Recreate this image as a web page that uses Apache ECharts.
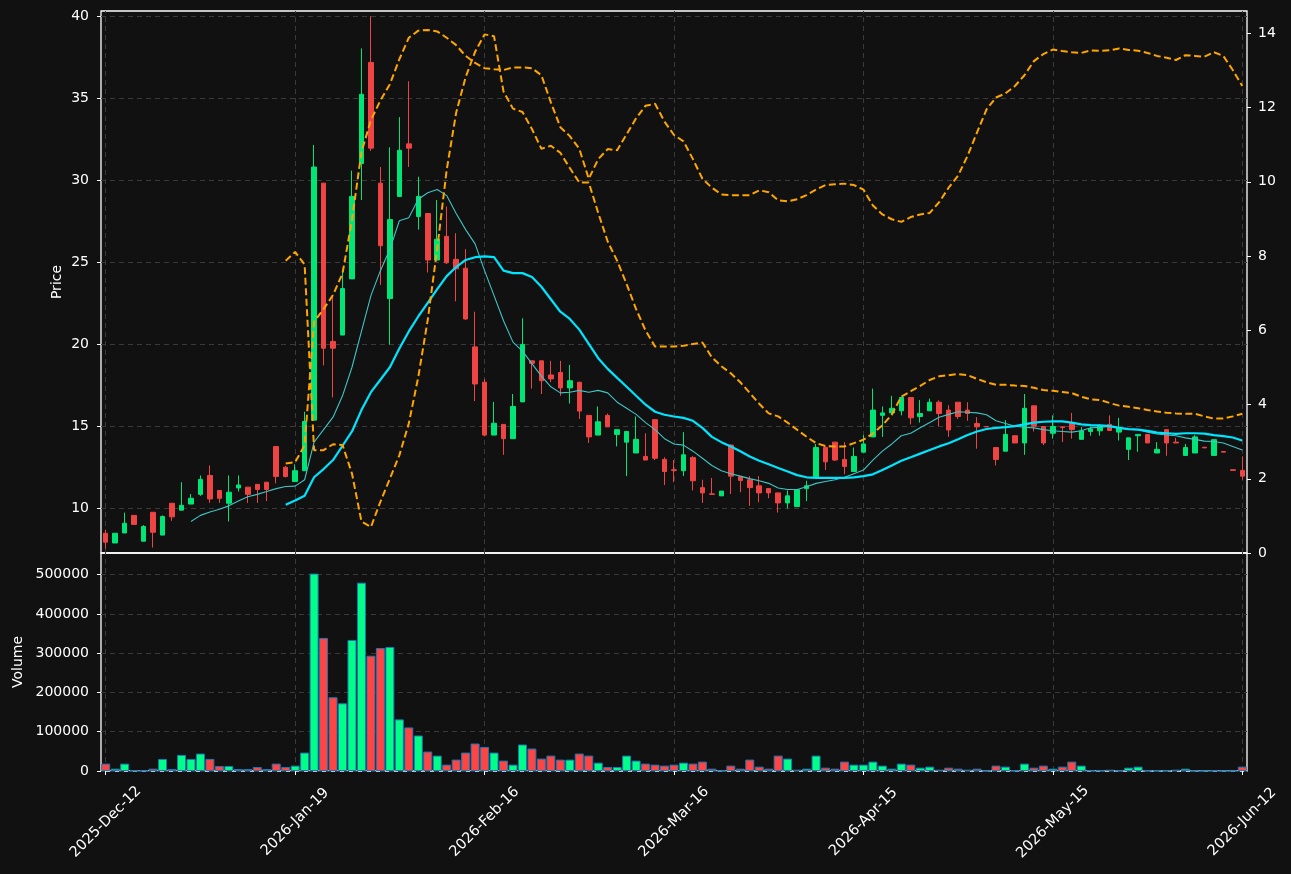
<!DOCTYPE html>
<html>
<head>
<meta charset="utf-8">
<script src="https://cdn.jsdelivr.net/npm/echarts@6/dist/echarts.min.js"></script>
<style>
  html, body { margin: 0; padding: 0; background: #111111; }
  #chart { width: 1291px; height: 874px; }
</style>
</head>
<body>
<div id="chart"></div>
<script>
// trading days shown on the category axis
const dates = [
  '2025-Dec-12', '2025-Dec-15', '2025-Dec-16', '2025-Dec-17', '2025-Dec-18', '2025-Dec-19', '2025-Dec-22', '2025-Dec-23', '2025-Dec-29', '2025-Dec-30',
  '2026-Jan-05', '2026-Jan-06', '2026-Jan-07', '2026-Jan-08', '2026-Jan-09', '2026-Jan-12', '2026-Jan-13', '2026-Jan-14', '2026-Jan-15', '2026-Jan-16',
  '2026-Jan-19', '2026-Jan-20', '2026-Jan-21', '2026-Jan-22', '2026-Jan-23', '2026-Jan-26', '2026-Jan-27', '2026-Jan-28', '2026-Jan-29', '2026-Jan-30',
  '2026-Feb-02', '2026-Feb-03', '2026-Feb-04', '2026-Feb-05', '2026-Feb-06', '2026-Feb-09', '2026-Feb-10', '2026-Feb-11', '2026-Feb-12', '2026-Feb-13',
  '2026-Feb-16', '2026-Feb-17', '2026-Feb-18', '2026-Feb-19', '2026-Feb-20', '2026-Feb-23', '2026-Feb-24', '2026-Feb-25', '2026-Feb-26', '2026-Feb-27',
  '2026-Mar-02', '2026-Mar-03', '2026-Mar-04', '2026-Mar-05', '2026-Mar-06', '2026-Mar-09', '2026-Mar-10', '2026-Mar-11', '2026-Mar-12', '2026-Mar-13',
  '2026-Mar-16', '2026-Mar-17', '2026-Mar-18', '2026-Mar-19', '2026-Mar-20', '2026-Mar-23', '2026-Mar-24', '2026-Mar-25', '2026-Mar-26', '2026-Mar-27',
  '2026-Mar-30', '2026-Mar-31', '2026-Apr-01', '2026-Apr-02', '2026-Apr-07', '2026-Apr-08', '2026-Apr-09', '2026-Apr-10', '2026-Apr-13', '2026-Apr-14',
  '2026-Apr-15', '2026-Apr-16', '2026-Apr-17', '2026-Apr-20', '2026-Apr-21', '2026-Apr-22', '2026-Apr-23', '2026-Apr-24', '2026-Apr-27', '2026-Apr-28',
  '2026-Apr-29', '2026-Apr-30', '2026-May-05', '2026-May-06', '2026-May-07', '2026-May-08', '2026-May-11', '2026-May-12', '2026-May-13', '2026-May-14',
  '2026-May-15', '2026-May-18', '2026-May-19', '2026-May-20', '2026-May-21', '2026-May-22', '2026-May-25', '2026-May-26', '2026-May-27', '2026-May-28',
  '2026-May-29', '2026-Jun-01', '2026-Jun-02', '2026-Jun-03', '2026-Jun-04', '2026-Jun-05', '2026-Jun-08', '2026-Jun-09', '2026-Jun-10', '2026-Jun-11',
  '2026-Jun-12'
]

// [open, close, low, high]
const ohlc = [
  [8.50, 7.96, 7.56, 8.72], [7.91, 8.50, 7.91, 8.50], [8.52, 9.11, 8.52, 9.76], [9.59, 9.04, 9.04, 9.59], [8.02, 8.91, 8.02, 9.00],
  [9.78, 8.56, 7.63, 9.78], [8.39, 9.52, 8.39, 9.59], [10.33, 9.50, 9.26, 10.33], [9.91, 10.20, 9.91, 11.61], [10.28, 10.63, 10.28, 10.89],
  [10.87, 11.78, 10.78, 12.02], [12.02, 10.59, 10.35, 12.63], [11.11, 10.63, 10.35, 11.11], [10.33, 11.00, 9.22, 12.02], [11.26, 11.44, 11.04, 12.02],
  [11.31, 10.87, 10.35, 11.31], [11.48, 11.17, 10.35, 11.48], [11.61, 11.17, 10.46, 11.61], [13.78, 11.96, 11.54, 13.78], [12.52, 11.96, 11.90, 12.60],
  [11.65, 12.31, 11.65, 12.70], [12.31, 15.31, 12.31, 15.90], [15.39, 30.80, 15.39, 32.14], [29.82, 19.77, 18.72, 29.82], [20.18, 19.77, 16.77, 22.97],
  [20.57, 23.40, 20.57, 24.49], [23.99, 29.01, 23.99, 30.58], [31.01, 35.23, 28.79, 38.02], [37.17, 31.95, 31.78, 39.98], [29.82, 26.01, 23.62, 30.80],
  [22.79, 27.60, 19.98, 32.00], [29.01, 31.82, 29.01, 33.84], [32.21, 31.95, 30.80, 36.02], [27.79, 29.01, 26.99, 30.21], [27.97, 25.14, 24.38, 27.97],
  [25.14, 26.40, 25.14, 28.79], [26.58, 24.97, 24.90, 28.40], [25.18, 24.60, 22.62, 26.77], [24.64, 21.55, 21.50, 25.80], [19.85, 17.59, 16.55, 21.99],
  [17.70, 14.48, 14.40, 17.90], [14.48, 15.20, 14.48, 16.50], [15.13, 14.26, 13.28, 15.13], [14.26, 16.22, 14.26, 16.98], [16.50, 20.00, 16.50, 21.59],
  [19.00, 18.85, 17.31, 19.00], [19.00, 17.79, 16.98, 19.00], [18.14, 17.90, 17.70, 19.00], [18.29, 17.35, 16.87, 19.00], [17.35, 17.79, 16.40, 18.75],
  [17.70, 15.94, 15.46, 17.70], [15.68, 14.37, 14.00, 15.68], [14.48, 15.29, 14.48, 16.22], [15.68, 14.98, 14.98, 15.79], [14.52, 14.81, 13.79, 14.81],
  [14.05, 14.70, 11.98, 14.70], [13.39, 14.22, 13.39, 15.61], [13.18, 12.96, 12.96, 14.59], [15.42, 13.07, 12.96, 15.42], [13.00, 12.26, 11.44, 13.13],
  [12.37, 12.33, 11.61, 12.96], [12.31, 13.28, 11.98, 14.66], [13.11, 11.70, 11.11, 13.20], [11.28, 10.96, 10.35, 11.76], [10.90, 10.87, 10.85, 11.87],
  [10.78, 11.07, 10.78, 11.07], [13.87, 11.98, 10.89, 13.90], [11.94, 11.72, 11.00, 11.94], [11.76, 11.28, 10.17, 11.98], [11.39, 10.96, 10.39, 11.98],
  [11.22, 10.96, 10.63, 11.22], [10.96, 10.35, 9.76, 10.96], [10.35, 10.78, 10.02, 11.11], [10.13, 11.15, 10.13, 11.15], [11.22, 11.39, 10.46, 11.70],
  [11.94, 13.72, 11.94, 13.94], [13.72, 12.85, 12.35, 13.80], [14.05, 12.96, 12.90, 14.05], [13.00, 12.57, 12.09, 14.05], [12.26, 13.18, 12.26, 13.72],
  [13.44, 13.94, 13.44, 14.48], [14.37, 16.00, 14.37, 17.31], [15.68, 15.83, 14.37, 16.22], [15.83, 16.11, 15.83, 16.87], [15.96, 16.77, 15.68, 16.77],
  [16.77, 15.53, 15.13, 16.77], [15.61, 15.79, 15.24, 16.61], [15.96, 16.48, 15.96, 16.70], [16.48, 15.79, 15.02, 16.60], [16.00, 14.79, 14.37, 16.30],
  [16.48, 15.61, 15.46, 16.48], [16.00, 15.79, 15.35, 16.48], [15.18, 14.98, 13.65, 15.57], [15.00, 14.98, 14.98, 15.00], [13.72, 13.00, 12.63, 13.72],
  [13.50, 14.52, 13.50, 15.39], [14.44, 14.00, 14.00, 14.44], [14.00, 16.11, 13.28, 16.98], [16.26, 15.02, 14.70, 16.26], [15.00, 14.00, 13.87, 15.00],
  [14.59, 15.00, 14.26, 15.68], [14.98, 14.94, 14.05, 14.98], [15.24, 14.81, 14.26, 15.83], [14.22, 14.74, 14.22, 14.96], [14.70, 14.85, 14.44, 15.00],
  [14.74, 15.02, 14.44, 15.13], [15.13, 14.76, 14.76, 15.68], [14.66, 14.92, 14.15, 15.53], [13.61, 14.31, 12.96, 14.31], [14.44, 14.52, 13.46, 14.52],
  [14.52, 14.00, 14.00, 14.52], [13.39, 13.61, 13.39, 14.05], [14.81, 14.00, 13.22, 14.81], [14.05, 14.00, 14.00, 14.31], [13.24, 13.72, 13.24, 13.94],
  [13.39, 14.37, 13.39, 14.48], [13.74, 13.70, 13.70, 13.74], [13.24, 14.20, 13.24, 14.20], [13.48, 13.44, 13.44, 13.48], [12.37, 12.33, 12.33, 12.37],
  [12.33, 11.98, 11.76, 13.18]
]

const volumes = [
  18800, 6000, 18800, 1000, 1000, 6000, 30700, 5100, 41000, 30700,
  44400, 30700, 12800, 12800, 5100, 5100, 10200, 5100, 18800, 10200,
  13700, 46900, 502600, 338700, 187700, 172400, 333600, 479500, 293500, 313100,
  315700, 131400, 110900, 90400, 49500, 39200, 16200, 29000, 46900, 70000,
  61400, 46900, 26500, 16200, 67400, 57200, 31600, 39200, 29000, 29000,
  44400, 39200, 21300, 10200, 10200, 39200, 26500, 18800, 16200, 13700,
  16200, 21300, 18800, 23900, 6000, 500, 13700, 6000, 29000, 11100,
  6000, 39200, 31600, 3400, 6000, 39200, 8500, 6000, 23900, 16200,
  16200, 23900, 13700, 6000, 18800, 16200, 8500, 11100, 3400, 8500,
  6000, 3400, 6000, 300, 13700, 11100, 1000, 18800, 8500, 13700,
  6000, 11100, 23900, 13700, 1000, 1000, 3400, 1000, 8500, 11100,
  800, 800, 800, 3400, 6000, 300, 200, 1000, 200, 200,
  11100
]

// short moving average (from day 10)
const maShort = [
  9.22, 9.59, 9.80, 9.96, 10.17, 10.46, 10.72, 10.87, 11.04, 11.22,
  11.35, 11.37, 11.76, 14.05, 14.81, 15.57, 16.87, 18.61, 20.79, 22.97,
  24.49, 25.79, 27.53, 27.71, 28.84, 29.23, 29.43, 29.06, 27.97, 26.99,
  26.12, 24.49, 22.97, 21.44, 20.14, 19.59, 18.83, 18.07, 17.42, 17.05,
  17.09, 17.20, 17.09, 17.20, 17.05, 16.48, 16.11, 15.74, 15.24, 14.81,
  14.26, 13.94, 13.87, 13.50, 13.07, 12.63, 12.31, 12.13, 11.98, 11.83,
  11.70, 11.54, 11.26, 11.17, 11.17, 11.33, 11.54, 11.65, 11.76, 11.91,
  12.13, 12.35, 12.96, 13.50, 13.94, 14.44, 14.59, 14.92, 15.24, 15.57,
  15.74, 15.90, 15.87, 15.83, 15.72, 15.35, 15.18, 15.02, 14.96, 14.92,
  14.81, 14.74, 14.70, 14.66, 14.74, 14.92, 14.96, 15.00, 14.92, 14.81,
  14.81, 14.66, 14.55, 14.48, 14.44, 14.31, 14.22, 14.11, 14.09, 14.00,
  13.79, 13.57
]

// long moving average (from day 20)
const maLong = [
  10.24, 10.50, 10.78, 11.91, 12.41, 12.96, 13.83, 14.70, 16.00, 17.09,
  17.85, 18.61, 19.75, 20.79, 21.70, 22.53, 23.36, 24.16, 24.71, 25.14,
  25.31, 25.36, 25.31, 24.49, 24.34, 24.34, 24.10, 23.51, 22.75, 21.99,
  21.55, 20.90, 20.03, 19.16, 18.51, 17.96, 17.42, 16.87, 16.33, 15.90,
  15.72, 15.61, 15.53, 15.35, 14.92, 14.37, 14.05, 13.79, 13.50, 13.18,
  12.92, 12.70, 12.48, 12.26, 12.04, 11.91, 11.87, 11.87, 11.87, 11.87,
  11.91, 11.98, 12.09, 12.35, 12.63, 12.92, 13.13, 13.35, 13.57, 13.79,
  13.98, 14.22, 14.48, 14.70, 14.85, 14.92, 14.96, 15.02, 15.13, 15.24,
  15.29, 15.31, 15.31, 15.24, 15.13, 15.09, 15.07, 15.02, 14.92, 14.85,
  14.81, 14.74, 14.63, 14.59, 14.55, 14.59, 14.59, 14.57, 14.48, 14.42,
  14.33, 14.15
]

// right-axis indicators (from day 20)
const indA = [
  7.87, 8.11, 7.77, 2.77, 2.77, 2.93, 2.91, 2.14, 0.85, 0.70,
  1.38, 2.00, 2.63, 3.49, 4.74, 6.28, 8.20, 10.32, 11.86, 12.82,
  13.50, 13.97, 13.92, 12.43, 11.97, 11.88, 11.42, 10.89, 10.97, 10.78,
  10.37, 9.98, 9.98, 9.16, 8.39, 7.87, 7.24, 6.57, 5.99, 5.56,
  5.56, 5.56, 5.58, 5.63, 5.67, 5.27, 5.03, 4.84, 4.60, 4.31,
  4.02, 3.76, 3.68, 3.51, 3.32, 3.13, 2.96, 2.88, 2.87, 2.87,
  2.96, 3.05, 3.22, 3.44, 3.73, 4.21, 4.36, 4.50, 4.66, 4.76,
  4.79, 4.82, 4.79, 4.69, 4.60, 4.53, 4.53, 4.51, 4.50, 4.45,
  4.39, 4.37, 4.34, 4.31, 4.21, 4.14, 4.12, 4.04, 3.97, 3.94,
  3.90, 3.85, 3.81, 3.78, 3.76, 3.75, 3.75, 3.68, 3.62, 3.62,
  3.68, 3.75
]
const indB = [
  2.41, 2.45, 2.90, 6.23, 6.57, 6.95, 7.53, 8.97, 10.80, 11.66,
  12.19, 12.63, 13.30, 13.88, 14.07, 14.09, 14.05, 13.88, 13.68, 13.39,
  13.20, 13.06, 13.03, 13.01, 13.08, 13.08, 13.06, 12.87, 12.14, 11.47,
  11.23, 10.89, 10.08, 10.61, 10.88, 10.85, 11.28, 11.71, 12.05, 12.10,
  11.62, 11.26, 11.09, 10.61, 10.08, 9.84, 9.66, 9.64, 9.64, 9.64,
  9.77, 9.72, 9.50, 9.47, 9.53, 9.64, 9.79, 9.91, 9.93, 9.95,
  9.91, 9.79, 9.36, 9.12, 8.99, 8.92, 9.05, 9.12, 9.16, 9.45,
  9.84, 10.17, 10.70, 11.33, 11.95, 12.27, 12.38, 12.58, 12.87, 13.25,
  13.44, 13.56, 13.52, 13.49, 13.47, 13.54, 13.53, 13.54, 13.59, 13.55,
  13.53, 13.47, 13.39, 13.34, 13.28, 13.41, 13.39, 13.37, 13.49, 13.39,
  13.01, 12.58
]

const priceTicks = [10, 15, 20, 25, 30, 35, 40]
const rightTicks = [0, 2, 4, 6, 8, 10, 12, 14]
const volumeTicks = [0, 100000, 200000, 300000, 400000, 500000]
const dateTickEvery = 20

const upColor = '#00e676'
const downColor = '#ef4444'
const volUp = '#00ff88'
const volDown = '#ff4444'
const gridLine = '#3a3a3a'
const fontFamily = 'DejaVu Sans'

function padFront(n, arr) {
  return new Array(n).fill(null).concat(arr)
}

const tickDates = dates.filter((d, i) => i % dateTickEvery === 0)
const vLines = tickDates.map(d => ({ xAxis: d }))

const chart = echarts.init(document.getElementById('chart'))

const labelStyle = { color: '#ffffff', fontSize: 14, fontFamily: fontFamily }
const tickStyle = { show: true, inside: false, length: 4, lineStyle: { color: '#ffffff', width: 1 } }

chart.setOption({
  backgroundColor: '#111111',
  animation: false,
  textStyle: { fontFamily: fontFamily },
  grid: [
    { left: 101, right: 44, top: 11, height: 542, show: true, borderColor: '#ffffff', borderWidth: 1.3, backgroundColor: 'transparent' },
    { left: 101, right: 44, top: 553, height: 218, show: true, borderColor: '#ffffff', borderWidth: 1.3, backgroundColor: 'transparent' }
  ],
  xAxis: [
    {
      type: 'category', gridIndex: 0, data: dates, boundaryGap: true,
      axisLine: { show: false }, axisTick: { show: false }, axisLabel: { show: false }, splitLine: { show: false }
    },
    {
      type: 'category', gridIndex: 1, data: dates, boundaryGap: true,
      axisLine: { show: false },
      axisTick: Object.assign({}, tickStyle, { interval: dateTickEvery - 1, alignWithLabel: true }),
      axisLabel: Object.assign({}, labelStyle, {
        interval: dateTickEvery - 1, rotate: 45, align: 'center', verticalAlign: 'middle', margin: 51, fontSize: 14.5
      }),
      splitLine: { show: false }
    }
  ],
  yAxis: [
    {
      type: 'value', gridIndex: 0, position: 'left', min: 7.3, max: 40.3,
      name: 'Price', nameLocation: 'middle', nameGap: 37, nameMoveOverlap: false,
      nameTextStyle: { color: '#ffffff', fontSize: 14, fontFamily: fontFamily },
      axisLine: { show: false },
      axisTick: Object.assign({}, tickStyle, { customValues: priceTicks }),
      axisLabel: Object.assign({}, labelStyle, { customValues: priceTicks, margin: 12 }),
      splitLine: { show: true, lineStyle: { color: gridLine, type: [5, 4], width: 1 } }
    },
    {
      type: 'value', gridIndex: 0, position: 'right', min: 0, max: 14.6,
      axisLine: { show: false },
      axisTick: Object.assign({}, tickStyle, { customValues: rightTicks }),
      axisLabel: Object.assign({}, labelStyle, { customValues: rightTicks, margin: 11 }),
      splitLine: { show: false }
    },
    {
      type: 'value', gridIndex: 1, position: 'left', min: 0, max: 555000,
      name: 'Volume', nameLocation: 'middle', nameGap: 76, nameMoveOverlap: false,
      nameTextStyle: { color: '#ffffff', fontSize: 14, fontFamily: fontFamily },
      axisLine: { show: false },
      axisTick: Object.assign({}, tickStyle, { customValues: volumeTicks }),
      axisLabel: Object.assign({}, labelStyle, { customValues: volumeTicks, margin: 12, formatter: v => String(v) }),
      splitLine: { show: true, lineStyle: { color: gridLine, type: [5, 4], width: 1 } }
    }
  ],
  series: [
    {
      name: 'OHLC',
      type: 'candlestick',
      xAxisIndex: 0,
      yAxisIndex: 0,
      data: ohlc,
      barWidth: 5,
      itemStyle: {
        color: upColor, color0: downColor,
        borderColor: upColor, borderColor0: downColor, borderWidth: 1
      },
      markLine: {
        silent: true, symbol: 'none', z: 1, animation: false,
        label: { show: false },
        lineStyle: { color: gridLine, type: [5, 4], width: 1 },
        data: vLines
      }
    },
    {
      name: 'MA short', type: 'line', xAxisIndex: 0, yAxisIndex: 0,
      data: padFront(9, maShort), symbol: 'none',
      lineStyle: { color: '#3fc4c4', width: 1.1 }, z: 3
    },
    {
      name: 'MA long', type: 'line', xAxisIndex: 0, yAxisIndex: 0,
      data: padFront(19, maLong), symbol: 'none',
      lineStyle: { color: '#00e5ff', width: 2.2 }, z: 3
    },
    {
      name: 'Ind A', type: 'line', xAxisIndex: 0, yAxisIndex: 1,
      data: padFront(19, indA), symbol: 'none',
      lineStyle: { color: '#ffa500', width: 2, type: [7, 3.5] }, z: 4
    },
    {
      name: 'Ind B', type: 'line', xAxisIndex: 0, yAxisIndex: 1,
      data: padFront(19, indB), symbol: 'none',
      lineStyle: { color: '#ffa500', width: 2, type: [7, 3.5] }, z: 4
    },
    {
      name: 'Volume', type: 'bar', xAxisIndex: 1, yAxisIndex: 2,
      barWidth: 9,
      data: volumes.map((v, i) => ({
        value: v,
        itemStyle: { color: ohlc[i][1] >= ohlc[i][0] ? volUp : volDown }
      })),
      itemStyle: { borderColor: '#1f77b4', borderWidth: 1 },
      markLine: {
        silent: true, symbol: 'none', z: 1, animation: false,
        label: { show: false },
        lineStyle: { color: gridLine, type: [5, 4], width: 1 },
        data: vLines
      }
    }
  ]
})
</script>
</body>
</html>
